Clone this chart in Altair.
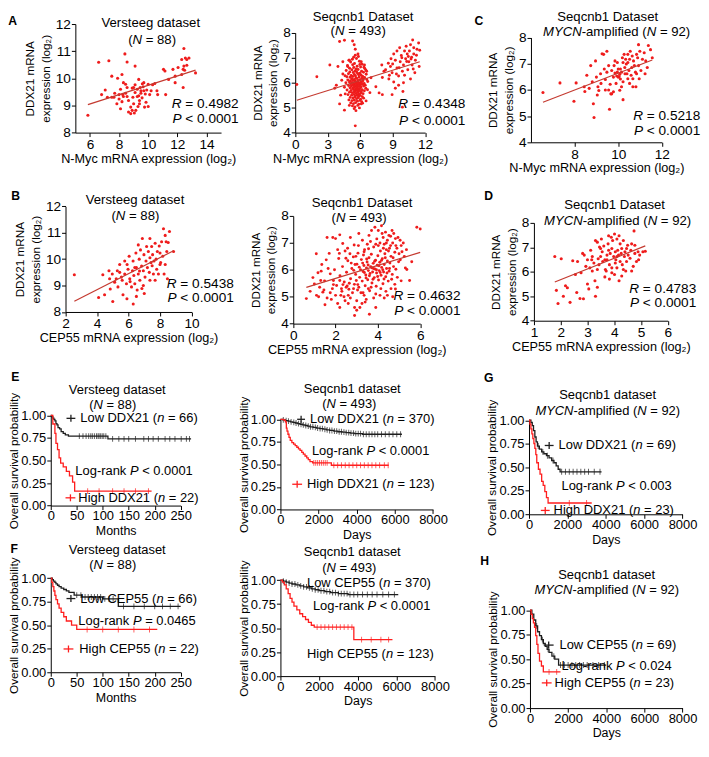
import altair as alt
import pandas as pd

FONT = "Liberation Sans"
PT_RED = "#ef1c1c"
REG_RED = "#c43a30"
KM_BLACK = "#1e1e1e"
KM_RED = "#ff1e1e"

# ---------------- scatter data ----------------
A1_X = [5.86, 6.6, 7.3, 6.8, 7.5, 7.9, 8.2, 8.55, 8.4, 9.1,
        7.7, 7.65, 8.0, 8.1, 8.25, 8.45, 8.2, 8.1, 8.55, 8.65,
        8.8, 8.65, 8.8, 8.9, 9.0, 8.95, 9.1, 9.1, 9.25, 9.35,
        9.35, 9.4, 9.5, 9.58, 9.3, 9.15, 9.65, 9.7, 9.8, 9.9,
        9.85, 9.75, 10.0, 10.1, 10.2, 10.3, 10.45, 10.65, 10.0, 9.7,
        9.45, 9.5, 9.0, 8.9, 8.45, 8.3, 7.85, 7.5, 7.2, 7.05,
        11.2, 11.05, 11.15, 11.4, 11.7, 11.85, 12.45, 12.3, 12.45, 12.55,
        12.65, 12.8, 12.4, 12.3, 12.5, 11.85, 12.4, 12.65, 13.25, 12.05,
        10.6, 9.6, 9.4, 9.05, 8.3, 8.0, 8.55, 9.25]
A1_Y = [8.64, 10.59, 10.65, 9.4, 10.08, 10.0, 10.14, 10.6, 10.9, 10.45,
        9.45, 9.3, 9.24, 9.6, 9.4, 9.45, 9.14, 8.88, 9.66, 9.18,
        8.94, 8.76, 8.7, 8.82, 9.06, 9.3, 9.48, 9.76, 9.6, 9.96,
        9.36, 9.18, 9.54, 9.28, 8.96, 8.82, 9.69, 9.84, 9.42, 9.57,
        9.12, 8.94, 9.78, 9.4, 9.54, 9.76, 9.81, 9.4, 8.96, 9.54,
        9.66, 9.45, 9.66, 9.64, 9.78, 9.84, 9.06, 9.3, 9.3, 9.57,
        9.4, 10.33, 10.27, 9.96, 10.33, 10.08, 11.1, 10.69, 10.45, 10.75,
        10.69, 10.75, 10.33, 10.14, 10.3, 9.84, 9.66, 10.48, 10.2, 10.4,
        9.54, 9.8, 9.06, 8.72, 9.33, 9.4, 9.33, 9.33]

A2_CORE = [(5.12,6.83),(5.48,6.77),(5.93,6.86),(4.83,6.69),(5.31,6.72),(5.72,6.66),(6.18,6.74),(5.02,6.58),
           (5.41,6.61),(5.63,6.55),(6.04,6.63),(6.42,6.57),(4.71,6.49),(5.23,6.52),(5.52,6.47),(5.81,6.53),
           (6.13,6.46),(6.52,6.51),(5.04,6.43),(5.36,6.41),(5.67,6.44),(5.96,6.38),(6.31,6.42),(4.92,6.36),
           (5.47,6.33),(5.76,6.37),(6.07,6.31),(5.17,6.29),(5.57,6.27),(5.86,6.32),(6.22,6.26),(6.56,6.34),
           (4.77,6.24),(5.07,6.22),(5.32,6.25),(5.61,6.19),(5.91,6.23),(6.16,6.18),(6.41,6.21),(5.22,6.16),
           (5.46,6.13),(5.71,6.17),(6.01,6.12),(6.29,6.15),(4.86,6.11),(5.11,6.08),(5.37,6.1),(5.56,6.06),
           (5.82,6.09),(6.06,6.04),(6.26,6.08),(6.61,6.13),(5.01,6.03),(5.26,6.01),(5.52,6.05),(5.66,5.99),
           (5.78,6.02),(5.96,5.98),(6.12,6.01),(6.37,5.97),(4.68,6.0),(5.14,5.96),(5.41,5.94),(5.58,5.97),
           (5.73,5.92),(5.87,5.95),(6.02,5.91),(6.21,5.94),(6.47,5.9),(4.93,5.89),(5.19,5.87),(5.36,5.91),
           (5.49,5.85),(5.63,5.88),(5.77,5.84),(5.92,5.86),(6.09,5.83),(6.33,5.87),(5.06,5.8),(5.31,5.78),
           (5.44,5.82),(5.59,5.76),(5.71,5.79),(5.84,5.74),(5.98,5.77),(6.18,5.72),(6.52,5.78),(4.79,5.71),
           (5.16,5.69),(5.39,5.73),(5.53,5.67),(5.68,5.7),(5.81,5.66),(5.94,5.69),(6.11,5.64),(6.39,5.68),
           (5.02,5.62),(5.27,5.6),(5.46,5.63),(5.62,5.57),(5.76,5.61),(5.89,5.55),(6.06,5.59),(6.27,5.56),
           (4.88,5.52),(5.21,5.5),(5.42,5.53),(5.56,5.47),(5.72,5.51),(5.86,5.46),(6.01,5.49),(6.2,5.44),
           (5.08,5.41),(5.33,5.39),(5.51,5.42),(5.67,5.36),(5.83,5.4),(6.04,5.34),(6.32,5.38),(4.96,5.31),
           (5.24,5.28),(5.46,5.3),(5.74,5.26),(5.97,5.29),(6.14,5.24),(5.13,5.19),(5.38,5.16),(5.58,5.2),
           (5.87,5.14),(6.22,5.18),(5.29,5.07),(5.52,5.03),(5.78,5.09),(5.45,4.96),(5.93,4.99),(5.61,4.88),
           (5.28,6.94),(5.66,6.97),(4.96,6.9),(5.84,7.05),(5.55,7.1),(5.97,6.73),(6.35,6.62),(4.6,6.28),
           (4.55,5.82),(4.62,5.55),(6.7,6.05),(6.68,5.72)]
A2_SPARSE = [(0.15,5.93),(2.0,6.24),(3.2,6.71),(4.1,7.65),(4.55,7.7),(5.3,7.67),(5.45,7.52),(5.55,7.34),
             (5.8,7.15),(5.4,7.02),(5.0,6.9),(4.4,6.84),(3.95,6.65),(4.85,6.65),(6.1,6.84),(6.4,6.71),
             (6.6,6.46),(4.1,5.15),(4.55,4.9),(5.55,4.27),(5.0,5.09),(6.1,5.15),(6.55,5.27),(3.8,5.9),
             (3.65,5.78),(4.3,6.1),(4.2,5.5),(7.0,6.2),(6.9,5.6),(4.4,6.35)]
A2_HIGH = [(7.45,5.84),(7.75,5.59),(8.05,6.21),(8.35,6.52),(8.6,6.78),(8.8,6.65),(8.95,6.4),(8.95,5.52),
           (9.1,6.03),(9.25,6.9),(9.4,6.59),(9.55,6.27),(9.55,5.9),(9.7,6.84),(9.8,7.09),(9.9,6.46),
           (9.95,5.65),(10.0,6.71),(10.1,7.27),(10.2,6.96),(10.25,7.46),(10.35,7.15),(10.4,6.52),(10.5,6.84),
           (10.55,7.27),(10.65,7.52),(10.65,6.15),(10.75,7.02),(10.8,6.71),(10.85,7.71),(10.95,7.4),(10.95,7.15),
           (11.05,6.4),(11.1,6.9),(11.25,7.34),(11.4,7.59),(11.45,6.65),(9.9,5.02),(9.25,5.78),(8.65,6.15),
           (8.2,6.46),(8.0,6.71),(9.65,7.4),(9.4,7.27),(9.1,7.15),(8.85,6.96),(8.05,5.52),(9.0,6.75),
           (9.6,6.6),(10.1,6.3),(10.3,6.85),(10.7,6.95),(10.9,6.55),(11.2,7.1),(9.85,7.0),(10.45,7.05),
           (9.35,6.35),(8.7,6.3),(10.0,6.0),(11.5,7.3)]

C_PTS = [(6.55,5.9),(7.33,6.27),(7.97,5.57),(8.07,6.27),(8.44,6.12),(8.47,5.94),(8.56,6.56),(8.74,6.93),
         (8.81,6.31),(8.86,5.47),(8.89,4.95),(8.96,7.11),(9.0,6.49),(9.07,6.12),(9.11,5.98),(9.19,6.62),
         (9.26,7.38),(9.33,7.36),(9.36,6.8),(9.41,6.4),(9.48,7.48),(9.48,6.68),(9.56,6.0),(9.6,5.26),
         (9.63,6.22),(9.66,5.85),(9.7,6.74),(9.7,5.85),(9.78,6.49),(9.81,6.93),(9.85,6.65),(9.9,6.25),
         (9.93,6.53),(9.96,6.68),(10.0,6.8),(10.0,6.49),(10.04,6.51),(10.07,6.6),(10.1,6.8),(10.1,6.42),
         (10.15,6.68),(10.19,7.23),(10.22,7.05),(10.22,5.63),(10.27,7.36),(10.3,6.86),(10.34,7.17),(10.37,6.99),
         (10.4,6.62),(10.44,7.05),(10.44,7.36),(10.49,6.74),(10.52,7.17),(10.55,7.48),(10.59,6.56),(10.64,7.3),
         (10.67,6.43),(10.7,7.11),(10.74,6.93),(10.79,6.68),(10.81,6.12),(10.84,7.36),(10.89,7.23),(10.93,6.93),
         (10.96,6.43),(10.99,7.48),(11.04,6.74),(11.11,7.17),(11.19,7.42),(11.26,7.11),(11.33,6.86),(11.38,7.7),
         (10.84,6.62),(10.52,6.25),(10.15,6.12),(9.85,7.11),(9.21,6.25),(8.67,6.06),(10.67,6.12),(11.48,7.54),
         (10.93,7.73),(9.56,6.93),(10.07,5.99),(10.22,6.31),(10.44,6.43),(9.78,5.93),(9.04,5.81),(9.41,6.0),
         (9.96,7.05),(10.31,6.62),(10.62,6.86),(11.23,6.62),(11.56,7.23)]

B1_PTS = [(2.56,9.41),(4.37,9.41),(4.76,9.56),(4.8,9.26),(4.97,9.44),(4.48,8.65),(4.84,8.87),(5.22,9.26),
          (5.29,9.56),(5.33,8.95),(5.44,9.5),(5.55,9.32),(5.65,8.65),(5.76,9.44),(5.87,9.07),(5.91,9.8),
          (5.97,9.62),(6.04,10.11),(6.08,9.26),(6.19,8.95),(6.25,9.56),(6.29,9.93),(6.34,9.38),(6.4,9.07),
          (6.47,10.23),(6.5,9.68),(6.55,8.83),(6.62,10.54),(6.62,9.44),(6.68,10.0),(6.72,9.2),(6.76,10.35),
          (6.83,9.74),(6.85,8.89),(6.88,10.78),(6.94,9.56),(6.98,10.17),(7.05,9.32),(7.11,9.93),(7.15,10.48),
          (7.2,9.68),(7.26,10.29),(7.32,9.5),(7.36,10.78),(7.36,10.05),(7.43,9.87),(7.47,10.48),(7.53,10.17),
          (7.58,9.44),(7.62,9.93),(7.69,10.6),(7.75,10.0),(7.79,9.62),(7.83,10.29),(7.9,9.44),(8.0,10.23),
          (8.04,9.87),(8.1,10.66),(8.17,10.11),(8.22,11.15),(8.26,9.44),(8.33,9.8),(8.39,10.66),(8.43,10.29),
          (8.47,9.26),(8.52,10.63),(8.86,10.29),(8.33,10.9),(8.0,9.8),(7.69,9.2),(7.36,9.2),(6.4,9.68),
          (5.76,9.93),(5.44,9.8),(5.12,9.13),(6.94,9.0),(6.5,8.59),(4.1,8.55),(5.0,8.4),(5.9,8.5),
          (6.3,8.3),(7.0,8.7),(6.1,9.15),(7.5,9.75),(6.7,9.55),(5.6,9.2),(8.6,11.05),(7.95,10.5)]

B2_EDGE = [(5.84,7.58),(6.0,7.52),(0.62,4.93),(1.09,6.6),(1.6,7.2),(1.87,7.2),(2.0,7.16),(1.7,6.61),
           (1.56,6.37),(1.17,5.89),(1.32,5.95),(0.93,5.71),(1.0,5.47),(1.25,5.35),(1.4,5.17),(1.48,5.59),
           (2.34,6.98),(2.18,6.61),(2.57,6.8),(2.49,6.43),(2.88,6.92),(2.96,6.5),(3.27,7.1),(3.35,6.67),
           (3.58,7.28),(3.7,7.46),(3.86,7.58),(4.02,7.46),(4.17,7.64),(4.36,7.4),(4.52,7.28),(4.67,7.46),
           (4.83,7.16),(4.9,6.8),(5.14,6.67),(5.06,6.37),(5.3,6.07),(5.37,6.01),(5.1,5.59),(4.83,5.29),
           (1.8,4.9),(2.2,4.6),(2.6,4.75),(3.0,4.5),(3.4,4.8),(3.9,4.6),(4.3,4.95),(2.9,4.3),
           (3.6,4.35),(1.5,4.7),(2.4,5.0),(4.7,5.0),(5.5,5.6),(5.6,6.3),(5.2,7.0),(4.4,7.0),
           (3.1,7.35),(2.7,7.2),(2.2,7.3),(1.35,6.2),(0.8,5.2),(1.1,5.05)]
B2_CORE = [(2.05,5.42),(2.21,5.78),(2.33,6.12),(2.41,5.55),(2.52,5.91),(2.58,6.34),(2.63,5.28),(2.71,5.67),
           (2.77,6.05),(2.84,6.48),(2.89,5.46),(2.95,5.83),(3.01,6.21),(3.06,6.62),(3.1,5.35),(3.14,5.72),
           (3.18,6.0),(3.22,6.38),(3.26,5.58),(3.3,5.94),(3.34,6.16),(3.37,6.75),(3.4,5.41),(3.43,5.81),
           (3.46,6.07),(3.49,6.29),(3.52,5.63),(3.55,5.97),(3.58,6.45),(3.61,5.22),(3.63,5.86),(3.66,6.12),
           (3.69,6.58),(3.72,5.51),(3.75,5.92),(3.78,6.24),(3.8,6.85),(3.83,5.71),(3.86,6.03),(3.89,6.36),
           (3.92,5.39),(3.94,5.88),(3.97,6.17),(4.0,6.52),(4.03,5.62),(4.06,5.97),(4.09,6.28),(4.12,6.7),
           (4.15,5.8),(4.18,6.09),(4.21,6.41),(4.24,5.48),(4.27,5.92),(4.3,6.2),(4.33,6.6),(4.37,5.74),
           (4.41,6.05),(4.45,6.33),(4.49,5.58),(4.53,5.95),(4.57,6.25),(4.62,6.5),(4.68,5.83),(4.74,6.12),
           (4.8,5.46),(2.15,6.42),(2.28,5.3),(2.45,6.7),(2.6,5.05),(2.74,6.25),(2.86,5.98),(2.98,5.6),
           (3.08,6.9),(3.2,5.15),(3.32,6.55),(3.44,5.7),(3.56,6.78),(3.68,5.35),(3.79,6.05),(3.9,5.1),
           (4.02,6.9),(4.14,5.3),(4.26,6.8),(4.38,5.2),(4.5,6.7),(4.62,5.3),(4.72,6.45),(4.85,6.02),
           (4.92,5.72),(4.98,6.3),(3.12,6.1),(3.28,6.25),(3.36,5.9),(3.47,6.4),(3.54,6.18),(3.6,5.78),
           (3.71,6.08),(3.77,5.65),(3.85,6.32),(3.93,6.0),(3.99,5.75),(4.05,6.15),(4.11,5.9),(4.17,6.35),
           (4.23,6.0),(4.29,5.66),(4.35,6.45),(4.43,5.88),(4.55,6.05),(4.65,5.65),(1.9,5.6),(1.95,6.0),
           (2.1,6.75),(1.75,5.85),(1.65,6.05),(2.25,5.05),(2.5,5.35),(2.68,6.6),(2.92,6.2),(3.04,5.25),
           (3.5,6.95),(3.65,7.05),(3.95,7.15),(4.25,7.2),(4.6,6.9),(4.1,5.05),(3.8,4.95),(3.35,5.05),
           (2.8,5.15),(4.45,5.05)]
B2_LOWLEFT = [(1.2,5.0),(1.45,5.25),(1.6,4.95),(1.85,5.3),(2.0,5.05),(2.1,4.75),(2.3,5.2),(2.45,4.85),
              (2.55,5.4),(2.7,4.95),(2.85,5.3),(3.0,4.85),(3.15,4.6),(3.3,5.15),(3.45,4.9),(1.9,5.45),
              (2.2,5.6),(2.65,5.5),(3.05,5.45),(3.25,4.75),(1.3,5.6),(1.75,5.15),(2.35,5.45),(2.9,4.6),
              (3.55,5.3)]
B2_UPRIGHT = [(4.1,7.0),(4.3,6.95),(4.45,7.1),(4.55,6.8),(4.7,7.0),(4.85,6.9),(4.95,7.2),(5.0,6.6),
              (5.1,6.9),(5.25,6.5),(4.6,7.25),(4.4,6.75),(4.8,6.65),(5.35,6.75),(4.2,7.35),(3.9,6.95),
              (4.75,7.35),(5.05,7.1)]

D_PTS = [(1.78,6.62),(2.02,6.53),(1.84,5.24),(2.18,5.43),(2.45,6.45),(2.55,5.89),(2.76,5.96),(2.72,4.91),
         (2.82,6.75),(2.88,6.68),(3.0,6.49),(3.0,5.5),(3.09,6.16),(3.12,6.88),(3.16,6.49),(3.18,6.03),
         (3.24,6.36),(3.28,5.63),(3.3,7.28),(3.37,7.21),(3.4,6.53),(3.43,6.29),(3.45,7.01),(3.49,6.62),
         (3.52,7.34),(3.55,6.82),(3.57,6.42),(3.61,7.05),(3.65,6.49),(3.67,6.09),(3.7,6.03),(3.73,6.68),
         (3.77,7.14),(3.79,7.47),(3.82,6.29),(3.82,5.7),(3.85,6.75),(3.89,7.41),(3.91,6.95),(3.91,6.16),
         (3.94,7.28),(3.98,6.62),(4.01,7.54),(4.01,5.89),(4.04,6.82),(4.06,6.49),(4.1,7.34),(4.1,6.16),
         (4.13,6.88),(4.16,6.68),(4.18,7.47),(4.22,7.14),(4.22,6.42),(4.26,6.75),(4.28,6.95),(4.3,6.29),
         (4.34,7.28),(4.38,6.62),(4.4,6.82),(4.43,6.03),(4.46,6.42),(4.5,7.08),(4.52,6.68),(4.59,6.55),
         (4.62,6.88),(4.65,7.14),(4.71,6.22),(4.74,7.67),(4.77,6.75),(4.83,6.42),(4.89,6.82),(4.91,6.49),
         (4.95,6.68),(5.07,6.82),(5.16,6.84),(4.18,5.63),(4.28,5.83),(3.91,5.96),(3.37,6.09),(2.94,6.22),
         (2.63,6.42),(3.49,6.95),(3.73,6.49),(4.04,6.36),(4.34,6.09),(3.65,5.79),(4.65,6.03),(3.37,5.37),
         (3.18,6.62),(4.1,6.62),(3.79,6.88),(4.46,6.95),(4.77,7.08)]
D_LOW = [(1.9,4.7),(2.1,5.0),(2.35,4.75),(2.6,5.15),(2.85,4.9),(3.05,5.3),(2.25,5.35),(3.3,5.0)]

# ---------------- Kaplan-Meier data (time, survival, censor times) ----------------
E1_LOW_T = [0, 2, 4, 6, 8, 10, 12, 14, 17, 20, 24, 28, 34, 110, 270]
E1_LOW_S = [1.0, 0.985, 0.97, 0.955, 0.94, 0.91, 0.895, 0.865, 0.85, 0.82, 0.80, 0.785, 0.77, 0.74, 0.74]
E1_LOW_C = [55, 62, 68, 73, 77, 80, 84, 88, 91, 93, 96, 99, 102, 106, 119, 131, 141, 150, 163, 179,
            188, 197, 207, 220, 229, 239, 251, 261, 267]
E1_HIGH_T = [0, 4, 8, 10, 13, 16, 19, 24, 30, 36, 42, 46, 194]
E1_HIGH_S = [1.0, 0.905, 0.80, 0.69, 0.62, 0.53, 0.47, 0.43, 0.38, 0.33, 0.26, 0.16, 0.16]
E1_HIGH_C = [71, 93, 119, 141, 163, 188]

E2_LOW_T = [0, 120, 260, 400, 520, 650, 780, 900, 1030, 1160, 1290, 1420, 1550, 1720, 1890, 2060,
            2240, 2410, 2580, 2800, 3010, 3230, 3440, 3660, 3870, 4300, 6370]
E2_LOW_S = [1.0, 0.993, 0.986, 0.979, 0.972, 0.966, 0.959, 0.952, 0.945, 0.938, 0.931, 0.924, 0.917,
            0.91, 0.903, 0.897, 0.89, 0.883, 0.876, 0.869, 0.862, 0.857, 0.852, 0.846, 0.841, 0.834, 0.834]
E2_LOW_C = [150, 300, 420, 560, 700, 820, 950, 1080, 1200, 1330, 1460, 1580, 1700, 1830, 1950, 2080,
            2200, 2330, 2450, 2580, 2700, 2830, 2950, 3080, 3200, 3330, 3450, 3580, 3700, 3830, 3950,
            4080, 4200, 4350, 4500, 4650, 4800, 4950, 5100, 5300, 5500, 5700, 5900, 6100, 6300]
E2_HIGH_T = [0, 170, 260, 310, 345, 395, 450, 515, 600, 690, 775, 860, 945, 1030, 1120, 1200, 1290,
             1380, 1460, 1550, 1690, 2670, 5680]
E2_HIGH_S = [1.0, 0.99, 0.972, 0.903, 0.869, 0.834, 0.80, 0.766, 0.741, 0.724, 0.707, 0.69, 0.672,
             0.655, 0.634, 0.614, 0.593, 0.572, 0.552, 0.531, 0.517, 0.49, 0.49]
E2_HIGH_C = [1750, 1850, 1950, 2050, 2150, 2250, 2350, 2450, 2800, 3000, 3200, 3400, 3600, 3800,
             4000, 4200, 4400, 4600, 4800, 5000, 5200, 5450, 5650]

G_LOW_T = [0, 100, 170, 235, 305, 370, 440, 540, 660, 775, 910, 1045, 1180, 1300, 1415, 1520, 1620, 3780]
G_LOW_S = [1.0, 0.976, 0.942, 0.89, 0.822, 0.77, 0.726, 0.692, 0.664, 0.644, 0.623, 0.60, 0.572,
           0.548, 0.514, 0.479, 0.452, 0.452]
G_LOW_C = [480, 720, 960, 1250, 1700, 1900, 2100, 2300, 2500, 2700, 2900, 3100, 3400, 3700]
G_HIGH_T = [0, 50, 100, 150, 200, 255, 305, 355, 405, 490, 575, 660, 740, 825, 910, 995, 3270]
G_HIGH_S = [1.0, 0.959, 0.908, 0.856, 0.805, 0.753, 0.702, 0.634, 0.548, 0.479, 0.428, 0.349, 0.308,
            0.24, 0.178, 0.12, 0.12]
G_HIGH_C = [2100, 3000]

F1_LOW_T = [0, 3, 5, 8, 10, 13, 16, 20, 25, 30, 35, 45, 60, 100, 130, 250]
F1_LOW_S = [1.0, 0.985, 0.97, 0.955, 0.94, 0.925, 0.91, 0.895, 0.88, 0.865, 0.85, 0.82, 0.80, 0.78, 0.70, 0.70]
F1_LOW_C = [50, 58, 66, 72, 78, 84, 90, 96, 104, 112, 120, 140, 160, 180, 200, 215, 230, 245]
F1_HIGH_T = [0, 2, 4, 6, 8, 10, 13, 16, 20, 25, 30, 40, 50, 205]
F1_HIGH_S = [1.0, 0.955, 0.91, 0.864, 0.818, 0.773, 0.727, 0.682, 0.636, 0.59, 0.545, 0.50, 0.455, 0.455]
F1_HIGH_C = [70, 100, 130, 160, 190]

F2_LOW_T = [0, 150, 300, 450, 600, 800, 1000, 1200, 1400, 1600, 1800, 2000, 2300, 2600, 3000, 3500, 6100]
F2_LOW_S = [1.0, 0.99, 0.98, 0.97, 0.96, 0.95, 0.94, 0.93, 0.92, 0.91, 0.9, 0.89, 0.88, 0.87, 0.86, 0.85, 0.85]
F2_LOW_C = [150, 300, 450, 600, 750, 900, 1050, 1200, 1350, 1500, 1650, 1800, 1950, 2100, 2250, 2400,
            2550, 2700, 2850, 3000, 3150, 3300, 3450, 3600, 3800, 4000, 4250, 4500, 4750, 5000, 5300,
            5600, 5900]
F2_HIGH_T = [0, 100, 200, 300, 400, 500, 600, 700, 850, 1000, 1150, 1300, 1450, 1600, 1750, 3800, 5800]
F2_HIGH_S = [1.0, 0.98, 0.95, 0.91, 0.86, 0.81, 0.77, 0.73, 0.69, 0.65, 0.62, 0.59, 0.56, 0.53, 0.51, 0.38, 0.38]
F2_HIGH_C = [1900, 2100, 2300, 2500, 2700, 2900, 3100, 3300, 3500, 3700, 4200, 4700, 5200, 5600]

H_LOW_T = [0, 100, 200, 300, 400, 500, 600, 700, 800, 900, 1000, 1150, 1300, 1500, 4000]
H_LOW_S = [1.0, 0.96, 0.9, 0.84, 0.78, 0.74, 0.7, 0.66, 0.63, 0.6, 0.57, 0.53, 0.5, 0.44, 0.44]
H_LOW_C = [350, 650, 950, 1250, 1600, 1800, 2000, 2200, 2400, 2600, 2800, 3000, 3300, 3600, 3900]
H_HIGH_T = [0, 60, 120, 180, 240, 300, 360, 420, 500, 600, 700, 1600]
H_HIGH_S = [1.0, 0.957, 0.913, 0.87, 0.826, 0.74, 0.65, 0.56, 0.48, 0.43, 0.37, 0.37]
H_HIGH_C = [1000, 1400]

# ---------------- layout (reference pixels, scaled to fit the page) ----------------
KX, KY, KF = 0.99, 0.975, 0.98
COLX = [47, 280, 532]
COLW = [233, 252, 158]
ROWY = [15, 137, 324, 524]
KM_TITLE = 13.0
KM_LABEL = 13.0

# ---------------- text helpers ----------------
CW = {c: 0.556 for c in "0123456789abdeghnopqu"}
CW.update({" ": 0.278, "(": 0.333, ")": 0.333, "=": 0.584, "<": 0.584, ".": 0.278, "-": 0.333,
           "c": 0.5, "f": 0.278, "i": 0.222, "j": 0.222, "k": 0.5, "l": 0.222, "m": 0.833, "r": 0.333,
           "s": 0.5, "t": 0.278, "v": 0.5, "w": 0.722, "x": 0.5, "y": 0.5, "z": 0.5,
           "A": 0.667, "B": 0.667, "C": 0.722, "D": 0.722, "E": 0.667, "F": 0.611, "G": 0.778,
           "H": 0.722, "L": 0.556, "M": 0.833, "N": 0.722, "P": 0.667, "R": 0.722, "S": 0.667,
           "V": 0.667, "X": 0.667, "Y": 0.667})

ONE = pd.DataFrame({"k": [0]})


def tw(s, size):
    return sum(CW.get(c, 0.556) for c in s) * size


def parse(s):
    parts = s.split("*")
    return [(p, i % 2 == 1) for i, p in enumerate(parts) if p]


def rich(s, x, y, size, align="left", color="black", weight="normal"):
    segs = parse(s)
    widths = [tw(t, size) for t, _ in segs]
    total = sum(widths)
    cur = x - total / 2 if align == "center" else (x - total if align == "right" else x)
    out = []
    for (t, it), w in zip(segs, widths):
        body = t.strip()
        lead = tw(t[: len(t) - len(t.lstrip())], size)
        if body:
            out.append(alt.Chart(ONE).mark_text(
                text=body, align="left", baseline="middle", font=FONT, fontSize=size,
                fontStyle="italic" if it else "normal", fontWeight=weight, color=color
            ).encode(x=alt.value(round(cur + lead, 2)), y=alt.value(round(y, 2))))
        cur += w
    return out


class Geo:
    def __init__(self, col, row, left, top, w, h):
        self.ox = left - COLX[col]
        self.oy = top - ROWY[row]
        self.gw = COLW[col] * KX
        self.gh = (self.oy + h) * KY
        self.xr = [round(self.ox * KX, 2), round((self.ox + w) * KX, 2)]
        self.yr = [round((self.oy + h) * KY, 2), round(self.oy * KY, 2)]

    def px(self, rx):
        return (self.ox + rx) * KX

    def py(self, ry):
        return (self.oy + ry) * KY


def marker(g, x1, x2, ry, color):
    y = g.py(ry)
    xm = g.px((x1 + x2) / 2)
    h = alt.Chart(ONE).mark_rule(color=color, strokeWidth=1.3).encode(
        x=alt.value(round(g.px(x1), 2)), x2=alt.value(round(g.px(x2), 2)), y=alt.value(round(y, 2)))
    v = alt.Chart(ONE).mark_rule(color=color, strokeWidth=1.3).encode(
        x=alt.value(round(xm, 2)), y=alt.value(round(y - 3.5, 2)), y2=alt.value(round(y + 3.5, 2)))
    return [h, v]


def common_text(g, t1, t2, p1, p2, letter, lp, size):
    out = rich(t1, g.px(p1[0]), g.py(p1[1]), size, "center")
    out += rich(t2, g.px(p2[0]), g.py(p2[1]), size, "center")
    if letter:
        out += rich(letter, g.px(lp[0]), g.py(lp[1]), 12.5 * KF, "center", weight="bold")
    return out


def scatter(pts, xdom, xvals, ydom, yvals, g, xtitle, t1, t2, p1, p2, rtxt, ptxt, rp,
            letter=None, lp=None, size=10):
    df = pd.DataFrame(pts, columns=["x", "y"])
    xe = alt.X("x:Q", scale=alt.Scale(domain=xdom, nice=False, zero=False, range=g.xr),
               axis=alt.Axis(values=xvals, title=xtitle, titlePadding=1))
    ye = alt.Y("y:Q", scale=alt.Scale(domain=ydom, nice=False, zero=False, range=g.yr),
               axis=alt.Axis(values=yvals, title=["DDX21 mRNA", "expression (log₂)"],
                             titleFontSize=12 * KF, titleLineHeight=16 * KF, titlePadding=4,
                             offset=-g.xr[0]))
    dots = alt.Chart(df).mark_circle(size=size * KF * KF, color=PT_RED, opacity=1).encode(x=xe, y=ye)
    reg = alt.Chart(df).transform_regression("x", "y").mark_line(
        color=REG_RED, strokeWidth=1.2).encode(x=xe, y=ye)
    layers = [dots, reg]
    layers += rich(rtxt, g.px(rp[0]), g.py(rp[1]), 14 * KF, "right")
    layers += rich(ptxt, g.px(rp[0]), g.py(rp[2]), 14 * KF, "right")
    layers += common_text(g, t1, t2, p1, p2, letter, lp, 13.5 * KF)
    return alt.layer(*layers).properties(width=round(g.gw, 2), height=round(g.gh, 2))


def km(curves, xdom, xvals, g, xtitle, t1, t2, p1, p2, labels, letter=None, lp=None):
    xe = alt.X("t:Q", scale=alt.Scale(domain=xdom, nice=False, range=g.xr),
               axis=alt.Axis(values=xvals, title=xtitle, format="d", labelFontSize=13,
                             labelPadding=0, titleFontSize=12.5, titlePadding=2))
    ye = alt.Y("s:Q", scale=alt.Scale(domain=[0, 1], nice=False, range=g.yr),
               axis=alt.Axis(values=[0, 0.25, 0.5, 0.75, 1], format=".2f", labelFontSize=13,
                             title="Overall survival probability", titleFontSize=12 * KF,
                             titlePadding=1, offset=-g.xr[0]))
    layers = []
    for T, S, C, color in curves:
        ldf = pd.DataFrame({"t": T, "s": S})
        layers.append(alt.Chart(ldf).mark_line(interpolate="step-after", color=color,
                                               strokeWidth=1.3).encode(x=xe, y=ye))
        cs = [S[max(i for i, t in enumerate(T) if t <= c)] for c in C]
        cdf = pd.DataFrame({"t": C, "s": cs})
        layers.append(alt.Chart(cdf).mark_tick(orient="vertical", size=6 * KF, thickness=1,
                                               color=color).encode(x=xe, y=ye))
    for txt, x, y, mk in labels:
        if mk:
            layers += marker(g, mk[0], mk[1], y, mk[2])
        layers += rich(txt, g.px(x), g.py(y), KM_LABEL, "left")
    layers += common_text(g, t1, t2, p1, p2, letter, lp, KM_TITLE)
    return alt.layer(*layers).properties(width=round(g.gw, 2), height=round(g.gh, 2))


NMYC = "N-Myc mRNA expression (log₂)"
CEP = "CEP55 mRNA expression (log₂)"
Y48 = [4, 5, 6, 7, 8]
Y812 = [8, 9, 10, 11, 12]
MON = [0, 50, 100, 150, 200, 250]
DAY = [0, 2000, 4000, 6000, 8000]

A1 = scatter(list(zip(A1_X, A1_Y)), [5, 15], [6, 8, 10, 12, 14], [8, 12], Y812,
             Geo(0, 0, 72, 15, 148, 112), NMYC,
             "Versteeg dataset", "(*N* = 88)", (77, -1), (78, 16), "*R* = 0.4982", "*P* < 0.0001",
             (166, 83, 98), "A", (-64, -3))
A2 = scatter(A2_CORE + A2_SPARSE + A2_HIGH, [0, 12], [0, 3, 6, 9, 12], [4, 8], Y48,
             Geo(1, 0, 295, 24, 132, 103), NMYC,
             "Seqcnb1 Dataset", "(*N* = 493)", (69, -16), (64, -2), "*R* = 0.4348", "*P* < 0.0001",
             (173, 74, 91), size=9)
C = scatter(C_PTS, [6, 12], [8, 10, 12], [4, 8], Y48, Geo(2, 0, 534, 29, 133, 108), NMYC,
            "Seqcnb1 Dataset", "*MYCN*-amplified (*N* = 92)", (78, -21), (87, -6),
            "*R* = 0.5218", "*P* < 0.0001", (172, 81, 96), "C", (-53, -17))
B1 = scatter(B1_PTS, [2, 10], [2, 4, 6, 8, 10], [8, 12], Y812, Geo(0, 1, 62, 203, 128, 109), CEP,
             "Versteeg dataset", "(*N* = 88)", (71, -6), (71, 10), "*R* = 0.5438", "*P* < 0.0001",
             (171, 80, 95), "B", (-51, -11))
B2 = scatter(B2_EDGE + B2_CORE + B2_LOWLEFT + B2_UPRIGHT, [0, 6], [0, 2, 4, 6], [4, 8], Y48,
             Geo(1, 1, 293, 213, 129, 111), CEP,
             "Seqcnb1 Dataset", "(*N* = 493)", (70, -13), (67, 2), "*R* = 0.4632", "*P* < 0.0001",
             (170, 83, 98), size=9)
D = scatter(D_PTS + D_LOW, [1, 6], [1, 2, 3, 4, 5, 6], [4, 8], Y48, Geo(2, 1, 537, 220, 136, 101), CEP,
            "Seqcnb1 Dataset", "*MYCN*-amplified (*N* = 92)", (82, -18), (85, -2),
            "*R* = 0.4783", "*P* < 0.0001", (165, 68, 83), "D", (-46, -28))

E1 = km([(E1_LOW_T, E1_LOW_S, E1_LOW_C, KM_BLACK), (E1_HIGH_T, E1_HIGH_S, E1_HIGH_C, KM_RED)],
        [0, 250], MON, Geo(0, 2, 47, 418, 132, 93), "Months", "Versteeg dataset", "(*N* = 88)",
        (68, -26), (63, -11),
        [("Low DDX21 (*n* = 66)", 30, 3, (16, 25, KM_BLACK)),
         ("Log-rank *P* < 0.0001", 25, 57, None),
         ("High DDX21 (*n* = 22)", 28, 85, (15, 25, KM_RED))], "E", (-36, -40))
E2 = km([(E2_LOW_T, E2_LOW_S, E2_LOW_C, KM_BLACK), (E2_HIGH_T, E2_HIGH_S, E2_HIGH_C, KM_RED)],
        [0, 8000], DAY, Geo(1, 2, 280, 422, 155, 93), "Days", "Seqcnb1 dataset", "(*N* = 493)",
        (73, -31), (70, -16),
        [("Low DDX21 (*n* = 370)", 30, 0, (17, 25, KM_BLACK)),
         ("Log-rank *P* < 0.0001", 32, 33, None),
         ("High DDX21 (*n* = 123)", 27, 67, (12, 22, KM_RED))])
G = km([(G_LOW_T, G_LOW_S, G_LOW_C, KM_BLACK), (G_HIGH_T, G_HIGH_S, G_HIGH_C, KM_RED)],
       [0, 8000], DAY, Geo(2, 2, 532, 423, 156, 97), "Days", "Seqcnb1 dataset",
       "*MYCN*-amplified (*N* = 92)", (80, -26), (80, -10),
       [("Low DDX21 (*n* = 69)", 30, 26, (16, 25, KM_BLACK)),
        ("Log-rank *P* < 0.003", 33, 68, None),
        ("High DDX21 (*n* = 23)", 25, 93, (12, 21, KM_RED))], "G", (-41, -44))
F1 = km([(F1_LOW_T, F1_LOW_S, F1_LOW_C, KM_BLACK), (F1_HIGH_T, F1_HIGH_S, F1_HIGH_C, KM_RED)],
        [0, 250], MON, Geo(0, 3, 47, 589, 132, 97), "Months", "Versteeg dataset", "(*N* = 88)",
        (68, -29.5), (63, -14),
        [("Low CEP55 (*n* = 66)", 30, 21, (16, 25, KM_BLACK)),
         ("Log-rank *P* = 0.0465", 28, 44, None),
         ("High CEP55 (*n* = 22)", 29, 73, (13, 23, KM_RED))], "F", (-37, -30))
F2 = km([(F2_LOW_T, F2_LOW_S, F2_LOW_C, KM_BLACK), (F2_HIGH_T, F2_HIGH_S, F2_HIGH_C, KM_RED)],
        [0, 8000], DAY, Geo(1, 3, 280, 591, 157, 99), "Days", "Seqcnb1 dataset", "(*N* = 493)",
        (73, -28.5), (70, -13),
        [("Low CEP55 (*n* = 370)", 27, 3, None),
         ("Log-rank *P* < 0.0001", 33, 27, None),
         ("High CEP55 (*n* = 123)", 27, 76, None)])
H = km([(H_LOW_T, H_LOW_S, H_LOW_C, KM_BLACK), (H_HIGH_T, H_HIGH_S, H_HIGH_C, KM_RED)],
       [0, 8000], DAY, Geo(2, 3, 533, 622, 155, 101), "Days", "Seqcnb1 dataset",
       "*MYCN*-amplified (*N* = 92)", (78, -36), (78, -21),
       [("Low CEP55 (*n* = 69)", 30, 36, (14, 24, KM_BLACK)),
        ("Log-rank *P* < 0.024", 32, 58, None),
        ("High CEP55 (*n* = 23)", 25, 75, (12, 22, KM_RED))], "H", (-46, -51))

chart = alt.concat(A1, A2, C, B1, B2, D, E1, E2, G, F1, F2, H, columns=3, spacing=0,
                   bounds="flush", align="each").configure_view(
    strokeWidth=0
).configure_axis(
    labelFont=FONT, labelFontSize=14 * KF, labelColor="#000", titleFont=FONT, titleFontSize=13 * KF,
    titleColor="#000", titleFontWeight="normal", domainColor="#000", domainWidth=1,
    tickColor="#000", tickWidth=1, tickSize=4, labelPadding=1, grid=False, labelFlush=False,
    labelOverlap=False
).properties(padding={"left": 0, "top": 0, "right": 0, "bottom": 0}, background="white")

chart.save("out.html", embed_options={"renderer": "svg", "actions": False})
